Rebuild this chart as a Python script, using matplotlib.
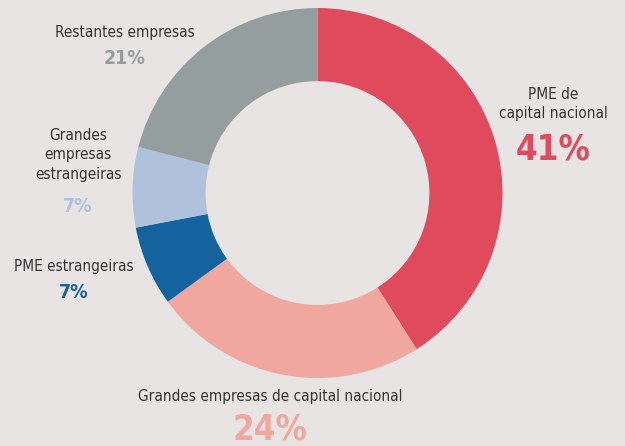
import matplotlib.pyplot as plt
from matplotlib import font_manager

labels = ['PME de\ncapital nacional', 'Grandes empresas de capital nacional',
          'PME estrangeiras', 'Grandes\nempresas\nestrangeiras', 'Restantes empresas']
values = [41, 24, 7, 7, 21]
pct_labels = ['41%', '24%', '7%', '7%', '21%']
colors = ['#df4a5c', '#f0a7a0', '#14629e', '#b0c1dc', '#959e9f']

names = {f.name for f in font_manager.fontManager.ttflist}
if 'Liberation Sans Narrow' in names:
    plt.rcParams['font.family'] = ['Liberation Sans Narrow', 'DejaVu Sans']
else:
    plt.rcParams['font.family'] = ['DejaVu Sans']
    plt.rcParams['font.stretch'] = 'condensed'

bg = '#e8e4e3'
fig = plt.figure(figsize=(6.25, 4.46), dpi=100, facecolor=bg)

# donut centre (px) and radius
cx, cy, r = 317.5, 193, 185
ax = fig.add_axes([(cx - r) / 625, (446 - cy - r) / 446, 2 * r / 625, 2 * r / 446])

ax.pie(values, colors=colors, startangle=90, counterclock=False, radius=1,
       wedgeprops=dict(width=0.395, linewidth=0))
ax.set_xlim(-1, 1)
ax.set_ylim(-1, 1)
ax.axis('off')


def px(x, y):
    return (x - cx) / r, (cy - y) / r


# label positions in pixels: (name x, name y, pct x, pct y, pct size)
pos = [(553, 104, 553, 150, 25),
       (270, 397, 270, 430, 25),
       (74, 266, 74, 292, 14),
       (78, 155, 78, 207, 14),
       (125, 33, 125, 58, 14)]

for lab, pct, c, (lx, ly, tx, ty, fs) in zip(labels, pct_labels, colors, pos):
    x, y = px(lx, ly)
    ax.text(x, y, lab, ha='center', va='center', fontsize=11, color='#333333',
            linespacing=1.35, clip_on=False)
    x, y = px(tx, ty)
    ax.text(x, y, pct, ha='center', va='center', fontsize=fs, color=c,
            fontweight='bold', clip_on=False)

fig.savefig('out.png', dpi=100, facecolor=bg)
